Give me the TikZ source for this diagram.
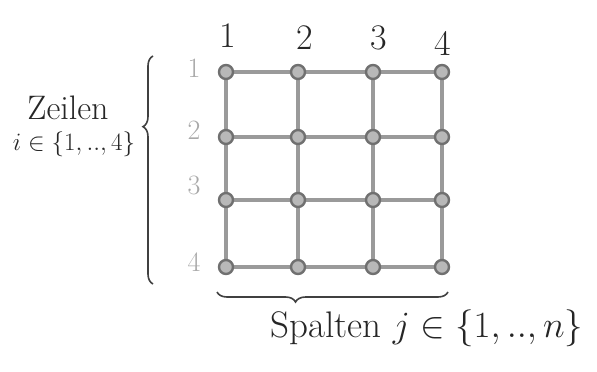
\RequirePackage{fix-cm}
\documentclass[tikz,border=0pt]{standalone}
\usetikzlibrary{decorations.pathreplacing}
\definecolor{edgegray}{HTML}{9A9A9A}
\definecolor{nodegray}{HTML}{707070}
\definecolor{rowgray}{HTML}{A8A8A8}
\tikzset{
  gridnode/.style={circle, draw=nodegray, fill=edgegray!70, line width=2.4pt, minimum size=14pt, inner sep=0pt},
  gridedge/.style={draw=edgegray, line width=3.6pt},
  collabel/.style={font=\fontsize{36}{38}\selectfont, text=black!85},
  rowlabel/.style={font=\fontsize{28}{30}\selectfont, text=rowgray},
  bracestyle/.style={draw=black!75, line width=1.6pt, decorate},
  handtext/.style={font=\fontsize{25}{28}\selectfont, text=black!85, anchor=center}
}
\begin{document}
\begin{tikzpicture}[x=1pt,y=-1pt]
\useasboundingbox (0,0) rectangle (597,372);
% grid nodes
\foreach \c/\x in {1/226,2/298,3/373,4/442}{
  \foreach \r/\y in {1/72,2/137,3/200,4/267}{
    \coordinate (p\r\c) at (\x,\y);
  }
}
% edges
\foreach \r in {1,2,3,4}{
  \draw[gridedge] (p\r1) -- (p\r2) -- (p\r3) -- (p\r4);
}
\foreach \c in {1,2,3,4}{
  \draw[gridedge] (p1\c) -- (p2\c) -- (p3\c) -- (p4\c);
}
\foreach \r in {1,2,3,4}{
  \foreach \c in {1,2,3,4}{
    \node[gridnode] (n\r\c) at (p\r\c) {};
  }
}
% column labels
\node[collabel] (c1) at (228,36) {1};
\node[collabel] (c2) at (305,38) {2};
\node[collabel] (c3) at (379,38) {3};
\node[collabel] (c4) at (443,43) {4};
% row labels
\node[rowlabel] (r1) at (194,68) {1};
\node[rowlabel] (r2) at (194,130) {2};
\node[rowlabel] (r3) at (194,185) {3};
\node[rowlabel] (r4) at (194,262) {4};
% left brace
\coordinate (lbt) at (153,56);
\coordinate (lbb) at (153,284);
\draw[bracestyle, decoration={brace, amplitude=10pt, aspect=0.69}] (lbb) -- (lbt);
\node[handtext, font=\fontsize{34}{36}\selectfont] (zeilen) at (68,108) {Zeilen};
\node[handtext] (irange) at (74,144) {$i\in\{1,..,4\}$};
% bottom brace
\coordinate (bbl) at (217,292);
\coordinate (bbr) at (448,292);
\draw[bracestyle, decoration={brace, amplitude=10pt, aspect=0.34, mirror}] (bbl) -- (bbr);
\node[handtext, font=\fontsize{37}{40}\selectfont] (spalten) at (427,328) {Spalten $j\in\{1,..,n\}$};
\end{tikzpicture}
\end{document}
